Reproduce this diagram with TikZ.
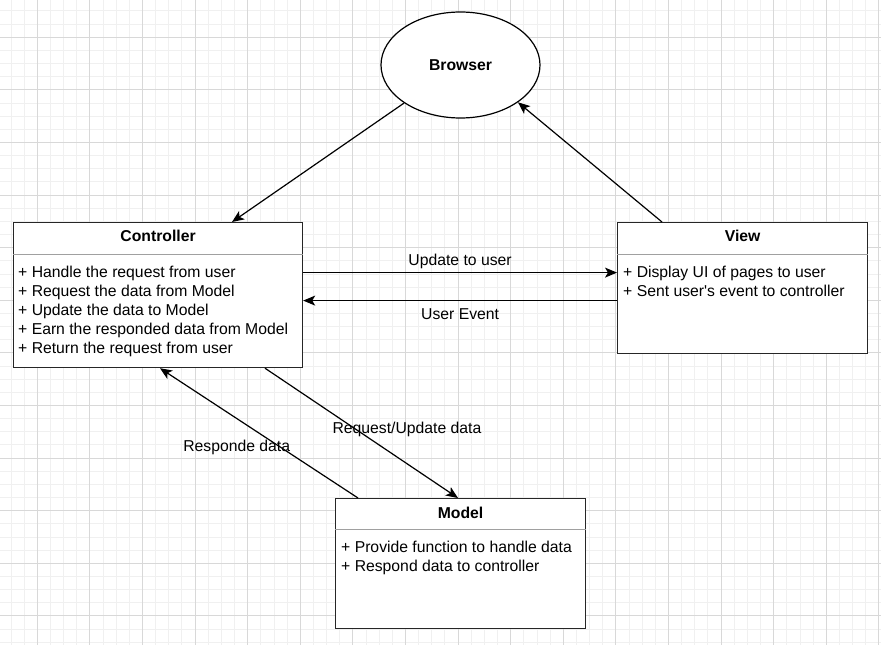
\documentclass[tikz,border=0pt]{standalone}
\usepackage{fontspec}
\setmainfont{Liberation Sans}
\usetikzlibrary{arrows.meta,shapes.geometric}
\definecolor{gridminor}{HTML}{F0F0F0}
\definecolor{gridmajor}{HTML}{D8D8D8}
\definecolor{headline}{HTML}{A0A0A0}

\begin{document}
\begin{tikzpicture}[x=1bp,y=-1bp,
            box/.style={draw=black!85, fill=white, line width=1.2bp, inner sep=0pt, anchor=north west},
            title/.style={font=\fontsize{15.8}{19}\selectfont\bfseries, inner sep=0pt},
            body/.style={font=\fontsize{15.8}{19}\selectfont, anchor=north west, align=left, inner sep=0pt},
            lbl/.style={font=\fontsize{15.8}{19}\selectfont, inner sep=0pt, anchor=base},
            arr/.style={-{Stealth[length=12bp,width=10bp,inset=3bp]}, line width=1.2bp}]
        \useasboundingbox (0,0) rectangle (881,645);
        \fill[white] (0,0) rectangle (881,645);

        % grid
        \foreach \i in {-2,...,64} \draw[gridminor, line width=1bp] ({37.3+13.15*\i},0) -- ({37.3+13.15*\i},645);
        \foreach \i in {-2,...,46} \draw[gridminor, line width=1bp] (0,{37.3+13.15*\i}) -- (881,{37.3+13.15*\i});
        \foreach \i in {0,...,16} \draw[gridmajor, line width=1bp] ({37.3+52.6*\i},0) -- ({37.3+52.6*\i},645);
        \foreach \i in {0,...,11} \draw[gridmajor, line width=1bp] (0,{37.3+52.6*\i}) -- (881,{37.3+52.6*\i});

        \node[draw, ellipse, fill=white, line width=1.2bp, minimum width=159bp, minimum height=106bp,
              font=\fontsize{15.8}{19}\selectfont\bfseries] (browser) at (460.5,65) {Browser};

        \node[box, minimum width=289bp, minimum height=145bp] (ctrl) at (13,222) {};
        \node[box, minimum width=250bp, minimum height=131bp] (view) at (617,222) {};
        \node[box, minimum width=250bp, minimum height=130bp] (model) at (335,498) {};

        \draw[headline, line width=1bp] ([yshift=-32bp]ctrl.north west) -- ([yshift=-32bp]ctrl.north east);
        \draw[headline, line width=1bp] ([yshift=-32bp]view.north west) -- ([yshift=-32bp]view.north east);
        \draw[headline, line width=1bp] ([yshift=-31bp]model.north west) -- ([yshift=-31bp]model.north east);

        \node[title] (ctrltitle) at ([yshift=-14bp]ctrl.north) {Controller};
        \node[title] (viewtitle) at ([yshift=-14bp]view.north) {View};
        \node[title] (modeltitle) at ([yshift=-15bp]model.north) {Model};

        \node[body] (ctrltext) at ([xshift=5bp,yshift=-44.3bp]ctrl.north west)
            {+ Handle the request from user\\+ Request the data from Model\\+ Update the data to Model\\+ Earn the responded data from Model\\+ Return the request from user};
        \node[body] (viewtext) at ([xshift=6bp,yshift=-44.3bp]view.north west)
            {+ Display UI of pages to user\\+ Sent user\textquotesingle s event to controller};
        \node[body] (modeltext) at ([xshift=6bp,yshift=-43.3bp]model.north west)
            {+ Provide function to handle data\\+ Respond data to controller};

        \draw[arr] (browser.214) -- ([xshift=219bp]ctrl.north west);
        \draw[arr] ([xshift=45bp]view.north west) -- (browser.327);

        \draw[arr] ([yshift=22.5bp]ctrl.east) -- node[lbl, yshift=7.3bp]{Update to user} ([yshift=22.5bp]ctrl.east -| view.west);
        \draw[arr] ([yshift=-5.5bp]ctrl.east -| view.west) -- node[lbl, yshift=-18.7bp]{User Event} ([yshift=-5.5bp]ctrl.east);

        \draw[arr] ([xshift=252bp]ctrl.south west) -- node[lbl, xshift=45.5bp, yshift=-0.3bp]{Request/Update data} ([xshift=123bp]model.north west);
        \draw[arr] ([xshift=23bp]model.north west) -- node[lbl, xshift=-22.3bp, yshift=-18.2bp]{Responde data} ([xshift=147bp]ctrl.south west);
    \end{tikzpicture}
\end{document}
